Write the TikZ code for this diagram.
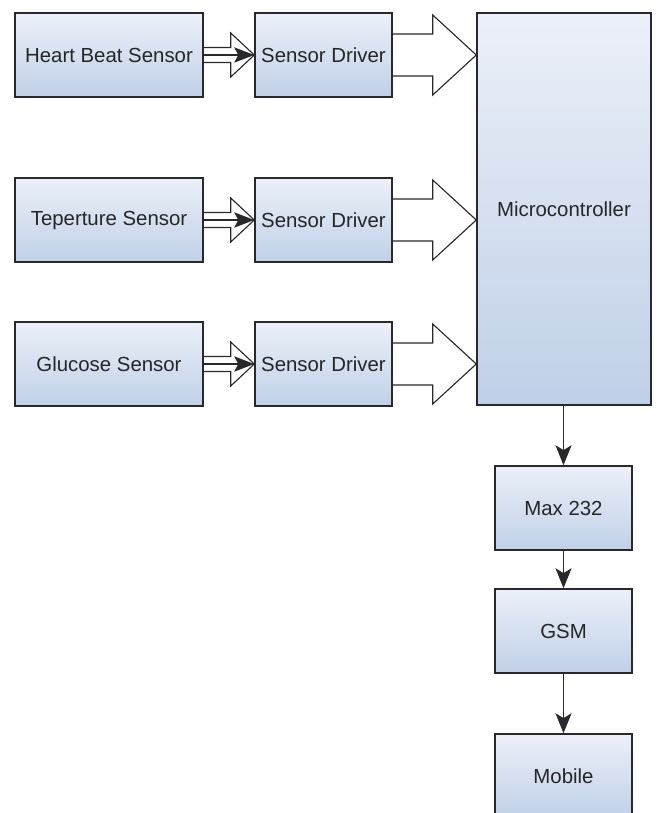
\documentclass[tikz,border=0pt]{standalone}
\usepackage{fontspec}
\setmainfont{Liberation Sans}
\usetikzlibrary{%
  calc,
  arrows.meta,
}

\definecolor{boxtop}{RGB}{236,240,248}
\definecolor{boxbot}{RGB}{192,208,232}
\definecolor{edge}{RGB}{40,40,45}

\tikzset{
  block/.style={draw=edge, line width=1pt,
    top color=boxtop, bottom color=boxbot,
    font=\fontsize{14.5}{17}\selectfont, text=black!85, inner sep=0pt},
  sensor/.style={block, minimum width=4.7cm, minimum height=2.1cm},
  driver/.style={block, minimum width=3.425cm, minimum height=2.1cm},
  hollow/.style={draw=edge, line width=0.8pt},
  link/.style={draw=edge, line width=1.1pt,
    -{Stealth[length=5mm, width=4mm, inset=1.2mm]}},
}

\begin{document}
\begin{tikzpicture}[x=0.025cm, y=-0.025cm]
        % 1 unit = 1 px of the page
        \clip (0,0) rectangle (656,813);
        \useasboundingbox (0,0) rectangle (656,813);

        \node[sensor] (hbsensor) at (109,55) {Heart Beat Sensor};
        \node[sensor] (tmpsensor) at (109,220) {Teperture Sensor};
        \node[sensor] (glusensor) at (109,364) {Glucose Sensor};

        \node[driver] (drvA) at (323.5,55) {Sensor Driver};
        \node[driver] (drvB) at (323.5,220) {Sensor Driver};
        \node[driver] (drvC) at (323.5,364) {Sensor Driver};

        \node[block, minimum width=4.35cm, minimum height=9.8cm]
          (mcu) at (564,209) {Microcontroller};

        \node[driver] (max) at (563.5,508) {Max 232};
        \node[driver] (gsm) at (563.5,631) {GSM};
        \node[driver] (mobile) at (563.5,776) {Mobile};

        % sensor -> driver
        \foreach \s/\d in {hbsensor/drvA, tmpsensor/drvB, glusensor/drvC} {
          \draw[hollow]
            ($(\s.east)+(0,-7.5)$) -- ($(\s.east)+(27,-7.5)$)
            -- ($(\s.east)+(27,-22)$) -- (\d.west)
            -- ($(\s.east)+(27,22)$) -- ($(\s.east)+(27,7.5)$)
            -- ($(\s.east)+(0,7.5)$);
          \draw[draw=edge, line width=1pt,
            -{Stealth[length=5mm, width=3.8mm, inset=1mm]}]
            (\s.east) -- (\d.west);
        }

        % driver -> microcontroller
        \foreach \d in {drvA, drvB, drvC} {
          \draw[hollow]
            ($(\d.east)+(0,-21)$) -- ($(\d.east)+(40,-21)$)
            -- ($(\d.east)+(40,-40)$) -- (\d.east -| mcu.west)
            -- ($(\d.east)+(40,40)$) -- ($(\d.east)+(40,21)$)
            -- ($(\d.east)+(0,21)$);
        }

        \draw[link] (mcu.south -| max.north) -- (max.north);
        \draw[link] (max.south) -- (gsm.north);
        \draw[link] (gsm.south) -- (mobile.north);
      \end{tikzpicture}
\end{document}
